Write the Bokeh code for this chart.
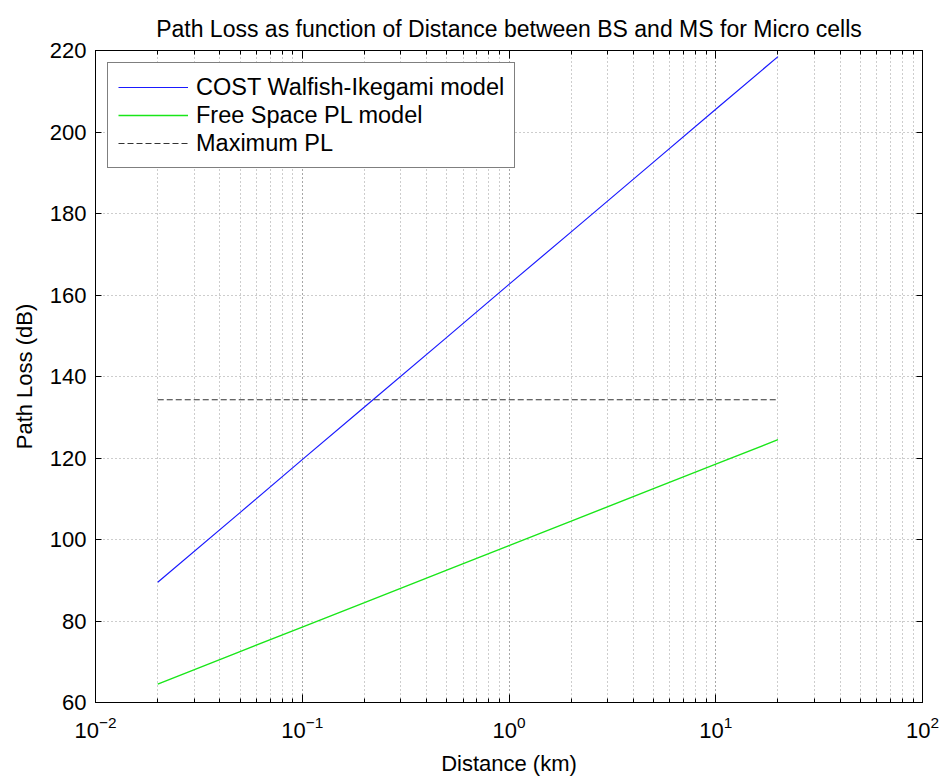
from bokeh.plotting import figure
from bokeh.models import (Range1d, LogAxis, LinearAxis, LogTicker, FixedTicker,
                          Legend, LegendItem, CustomJSTickFormatter)
from bokeh.embed import file_html
from bokeh.resources import INLINE

# ---- data ----
distance_km = [0.02, 0.05, 0.1, 0.2, 0.5, 1, 2, 5, 10, 20]
cost_wi_db = [89.5, 106.6, 119.6, 132.5, 149.6, 162.6, 175.5, 192.6, 205.6, 218.5]
free_space_db = [64.5, 72.5, 78.5, 84.5, 92.5, 98.5, 104.5, 112.5, 118.5, 124.5]
max_pl_distance = [0.02, 20]
max_pl_db = [134.3, 134.3]

x_decades = [-2, -1, 0, 1, 2]
y_ticks = [60, 80, 100, 120, 140, 160, 180, 200, 220]

title_text = "Path Loss as function of Distance between BS and MS for Micro cells"
x_label = "Distance (km)"
y_label = "Path Loss (dB)"
legend_labels = ["COST Walfish-Ikegami model", "Free Space PL model", "Maximum PL"]

FONT = "Liberation Sans"
X_MIN, X_MAX = 10.0 ** x_decades[0], 10.0 ** x_decades[-1]
Y_MIN, Y_MAX = y_ticks[0], y_ticks[-1]

p = figure(width=943, height=778, x_axis_type="log",
           x_range=Range1d(X_MIN, X_MAX), y_range=Range1d(Y_MIN, Y_MAX),
           output_backend="svg", toolbar_location=None,
           min_border_left=95, min_border_right=21, min_border_top=50,
           min_border_bottom=76, title=title_text)

p.background_fill_color = "white"
p.border_fill_color = "white"
p.outline_line_color = "black"
p.outline_line_width = 1

p.title.text_font = FONT
p.title.text_font_size = "23px"
p.title.text_font_style = "normal"
p.title.align = "center"
p.title.text_color = "black"
p.title.standoff = 18

empty_fmt = CustomJSTickFormatter(code="return ''")

# bottom x axis (log, 10^n labels)
xa = p.xaxis[0]
xa.ticker = LogTicker(num_minor_ticks=10)
xa.major_tick_in = 8
xa.major_tick_out = 0
xa.minor_tick_in = 4
xa.minor_tick_out = 0
xa.axis_line_color = "black"
xa.major_label_text_font = FONT
xa.major_label_text_font_size = "22px"
xa.major_label_text_color = "black"
xa.major_label_standoff = 13
xa.axis_label = x_label
xa.axis_label_text_font = FONT
xa.axis_label_text_font_size = "22px"
xa.axis_label_text_font_style = "normal"
xa.axis_label_text_color = "black"
xa.axis_label_standoff = 10

# left y axis
ya = p.yaxis[0]
ya.ticker = FixedTicker(ticks=y_ticks)
ya.major_tick_in = 6
ya.major_tick_out = 0
ya.minor_tick_line_color = None
ya.major_label_text_font = FONT
ya.major_label_text_font_size = "22px"
ya.major_label_text_color = "black"
ya.major_label_standoff = 9
ya.axis_label = y_label
ya.axis_label_text_font = FONT
ya.axis_label_text_font_size = "22px"
ya.axis_label_text_font_style = "normal"
ya.axis_label_text_color = "black"
ya.axis_label_standoff = 10

# top and right axes (ticks only)
top = LogAxis(ticker=LogTicker(num_minor_ticks=10), formatter=empty_fmt,
              major_tick_in=8, major_tick_out=0, minor_tick_in=4, minor_tick_out=0,
              major_label_standoff=0,
              major_label_text_font_size="0px", axis_line_color="black")
p.add_layout(top, "above")
right = LinearAxis(ticker=FixedTicker(ticks=y_ticks), formatter=empty_fmt,
                   major_tick_in=6, major_tick_out=0, minor_tick_line_color=None,
                   major_label_standoff=0,
                   major_label_text_font_size="0px", axis_line_color="black")
p.add_layout(right, "right")

# grid
p.xgrid.grid_line_color = "#9a9a9a"
p.xgrid.grid_line_dash = "1 3"
p.xgrid.minor_grid_line_color = "#9a9a9a"
p.xgrid.minor_grid_line_dash = "1 3"
p.ygrid.grid_line_color = "#9a9a9a"
p.ygrid.grid_line_dash = "1 3"

# lines
r1 = p.line(distance_km, cost_wi_db, line_color="#1a1aff", line_width=1.2)
r2 = p.line(distance_km, free_space_db, line_color="#19e619", line_width=1.4)
r3 = p.line(max_pl_distance, max_pl_db, line_color="#333333", line_width=1.2,
            line_dash="6 3")

legend = Legend(items=[LegendItem(label=legend_labels[0], renderers=[r1]),
                       LegendItem(label=legend_labels[1], renderers=[r2]),
                       LegendItem(label=legend_labels[2], renderers=[r3])],
                location="top_left", margin=12, padding=10, spacing=0,
                glyph_width=70, glyph_height=28, label_height=28,
                label_standoff=8, label_text_font=FONT,
                label_text_font_size="23.5px", label_text_color="black",
                border_line_color="black", border_line_width=1,
                background_fill_color="white", background_fill_alpha=1.0)
p.add_layout(legend)

open("out.html", "w").write(file_html(p, INLINE))
